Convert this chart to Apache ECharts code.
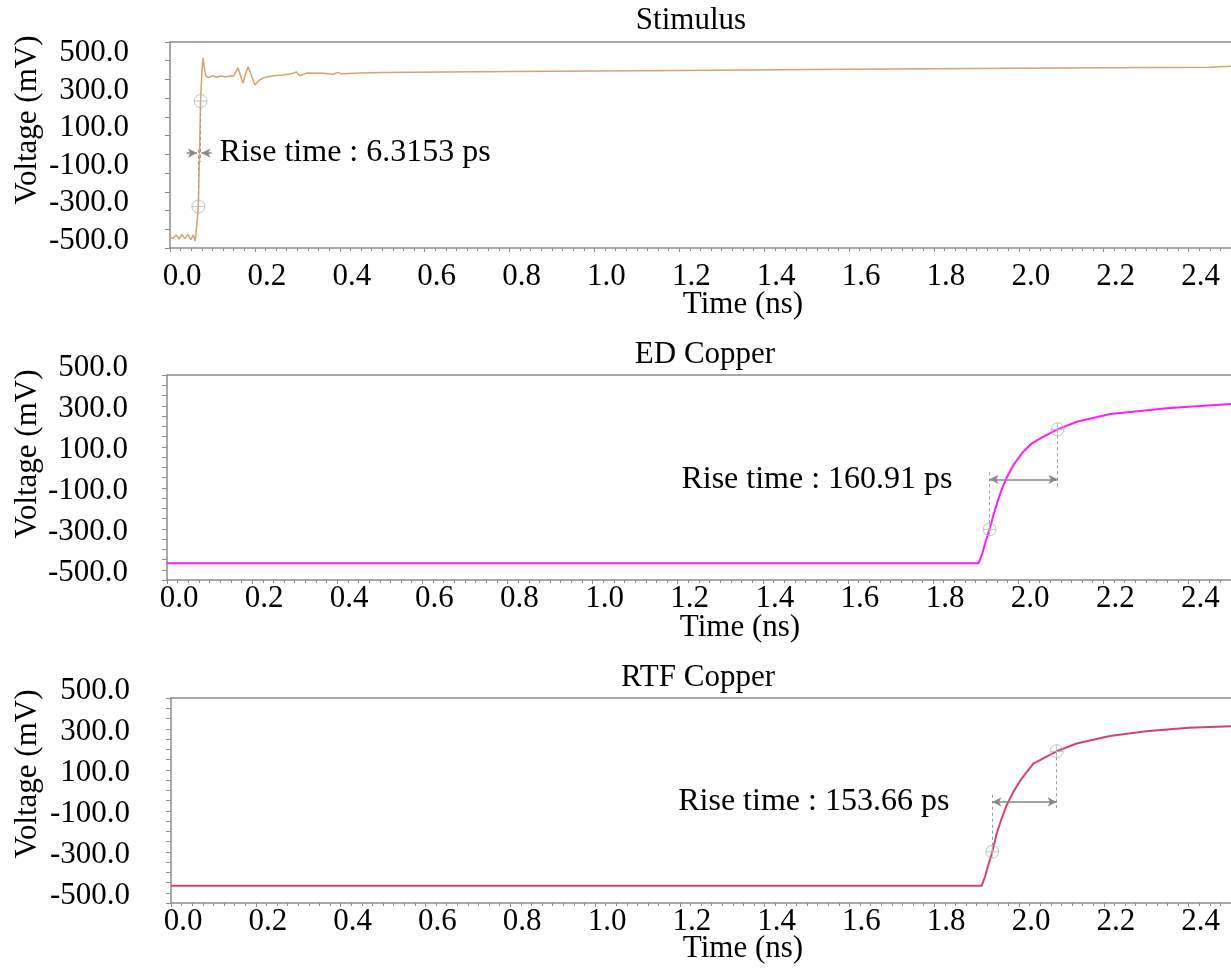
<!DOCTYPE html>
<html>
<head>
<meta charset="utf-8">
<script src="https://cdn.jsdelivr.net/npm/echarts@6/dist/echarts.min.js"></script>
<style>
html,body{margin:0;padding:0;background:#fff;}
#chart{width:1231px;height:971px;}
</style>
</head>
<body>
<div id="chart"></div>
<script>
// ---------------- DATA ----------------
const panelTitles = ['Stimulus', 'ED Copper', 'RTF Copper'];
const xTickLabelsNs = ['0.0','0.2','0.4','0.6','0.8','1.0','1.2','1.4','1.6','1.8','2.0','2.2','2.4'];
const yTickLabelsMv = ['-500.0','-300.0','-100.0','100.0','300.0','500.0'];

// Stimulus waveform (time ns, voltage mV)
const stimTime = [0, 0.007, 0.014, 0.021, 0.028, 0.035, 0.042, 0.049, 0.055, 0.059, 0.0605,
  0.0667, 0.0695, 0.072, 0.075, 0.0777, 0.081, 0.084, 0.090, 0.100, 0.110, 0.120, 0.130, 0.140,
  0.150, 0.155, 0.160, 0.166, 0.172, 0.178, 0.184, 0.192, 0.200, 0.210, 0.220, 0.240, 0.266,
  0.285, 0.298, 0.306, 0.322, 0.360, 0.385, 0.395, 0.405, 0.450, 0.500, 0.800, 1.200, 1.600,
  2.000, 2.200, 2.450, 2.500];
const stimVolt = [-440, -450, -430, -452, -428, -450, -427, -455, -430, -463, -445,
  -279, 0, 285, 430, 515, 460, 420, 410, 420, 412, 418, 415, 418,
  418, 440, 463, 420, 380, 430, 468, 420, 370, 395, 409, 418, 424,
  430, 440, 420, 434, 433, 428, 438, 430, 435, 437, 442, 448, 455,
  460, 463, 465, 470];

// ED Copper received waveform
const edTime = [0, 1.850, 1.9068, 1.9146, 1.9224, 1.9326, 1.9420, 1.9514, 1.9616, 1.9733, 1.9890,
  2.0086, 2.0321, 2.0595, 2.0924, 2.1379, 2.2162, 2.270, 2.349, 2.428, 2.500];
const edVolt = [-418, -418, -418, -378, -321, -253, -183, -118, -57, 1, 61,
  118, 167, 199, 235, 272, 310, 321, 338, 349, 359];

// RTF Copper received waveform
const rtfTime = [0, 1.850, 1.9120, 1.9198, 1.9277, 1.9371, 1.9474, 1.9591, 1.9709, 1.9866, 2.0063,
  2.0338, 2.0574, 2.0888, 2.1360, 2.2145, 2.300, 2.400, 2.500];
const rtfVolt = [-416, -416, -416, -372, -315, -250, -161, -88, -23, 42, 107,
  180, 205, 240, 278, 315, 338, 355, 362];

// Rise-time measurement points [t, mV] (low, high)
const stimRisePts = [[0.0667, -279], [0.072, 285]];
const edRisePts = [[1.9326, -253], [2.0924, 235]];
const rtfRisePts = [[1.9371, -250], [2.0888, 240]];
const riseLabels = ['Rise time : 6.3153 ps', 'Rise time : 160.91 ps', 'Rise time : 153.66 ps'];
const arrowLevelMv = [7, -9, -7];
const stimArrowOuter = [0.0393, 0.098];   // outer starts of the two inward arrows (stimulus)
const dashEndsMv = [[40, -40], [37, -45], [36, -37]]; // dashed guide ends (from low pt up, from high pt down)
const yRanges = [[-500, 600], [-500, 500], [-500, 500]];

// ---------------- STYLE / LAYOUT ----------------
const FONT = 'Liberation Serif';
const FS = 31;
const AXIS_GRAY = '#8c8c8c';
const colors = ['#d4a46c', '#ff1cff', '#d2456a'];
const grids = [
  {left: 170, right: 0, top: 42, height: 206},
  {left: 167, right: 0, top: 375, height: 205},
  {left: 171, right: 0, top: 698, height: 205}
];
const xLabelMargin = [13, 3, 3];
const yLabelMargin = [41, 39, 41];
const titleCenters = [[691, 21], [705, 355], [698, 678]];
const xNameCenters = [[743, 305], [740, 628], [743, 949]];
const yNameCenters = [[28, 120], [28, 454], [28, 774]];

const zip = (a, b) => a.map((v, i) => [v, b[i]]);
const circlePlus = 'path://M10,0A10,10,0,1,1,10,20A10,10,0,1,1,10,0ZM10,0L10,20M0,10L20,10';

const xAxes = [], yAxes = [], series = [];
for (let i = 0; i < 3; i++) {
  xAxes.push({
    type: 'value', gridIndex: i, min: 0, max: 2.5, interval: 0.2,
    axisLine: {show: true, onZero: false, lineStyle: {color: AXIS_GRAY, width: 1.5}},
    axisTick: {show: true, length: 4, inside: false, lineStyle: {color: AXIS_GRAY}},
    minorTick: {show: true, splitNumber: 8, length: 3, lineStyle: {color: AXIS_GRAY}},
    splitLine: {show: false},
    axisLabel: {
      showMaxLabel: false, margin: xLabelMargin[i],
      fontFamily: FONT, fontSize: FS, color: '#000', padding: [0, 0, 0, 24],
      formatter: v => {
        const s = v.toFixed(1);
        return xTickLabelsNs.indexOf(s) >= 0 ? s : '';
      }
    }
  });
  yAxes.push({
    type: 'value', gridIndex: i, min: yRanges[i][0], max: yRanges[i][1], interval: 100,
    axisLine: {show: true, onZero: false, lineStyle: {color: AXIS_GRAY, width: 1.5}},
    axisTick: {show: true, length: 5, lineStyle: {color: AXIS_GRAY}},
    minorTick: {show: i > 0, splitNumber: 2, length: 5, lineStyle: {color: AXIS_GRAY}},
    splitLine: {show: false},
    axisLabel: {
      margin: yLabelMargin[i], fontFamily: FONT, fontSize: FS, color: '#000',
      verticalAlign: 'bottom', lineHeight: 15,
      formatter: v => {
        const s = v.toFixed(1);
        return yTickLabelsMv.indexOf(s) >= 0 ? s : '';
      }
    }
  });
}
// top frame lines
for (let i = 0; i < 3; i++) {
  xAxes.push({
    type: 'value', gridIndex: i, position: 'top', min: 0, max: 2.5,
    axisLine: {show: true, onZero: false, lineStyle: {color: AXIS_GRAY, width: 1.5}},
    axisTick: {show: false}, axisLabel: {show: false}, splitLine: {show: false}
  });
}

const waveData = [zip(stimTime, stimVolt), zip(edTime, edVolt), zip(rtfTime, rtfVolt)];
const risePts = [stimRisePts, edRisePts, rtfRisePts];

const labelStyle = {fontFamily: FONT, fontSize: 32, color: '#000'};
const arrowLine = {color: '#888', width: 1.5, type: 'solid'};
const dashLine = {color: '#999', width: 1, type: [3, 3]};

for (let i = 0; i < 3; i++) {
  series.push({
    type: 'line', xAxisIndex: i, yAxisIndex: i, data: waveData[i],
    showSymbol: false, smooth: false,
    lineStyle: {color: colors[i], width: i === 0 ? 1.5 : 2},
    z: 2
  });
  const [lo, hi] = risePts[i];
  const lvl = arrowLevelMv[i];
  const mlData = [
    [{coord: [lo[0], lo[1]], symbol: 'none', lineStyle: dashLine, label: {show: false}},
     {coord: [lo[0], dashEndsMv[i][0]], symbol: 'none'}],
    [{coord: [hi[0], hi[1]], symbol: 'none', lineStyle: dashLine, label: {show: false}},
     {coord: [hi[0], dashEndsMv[i][1]], symbol: 'none'}]
  ];
  if (i === 0) {
    mlData.push([
      {coord: [stimArrowOuter[0], lvl], symbol: 'none', lineStyle: arrowLine, label: {show: false}},
      {coord: [lo[0] - 0.003, lvl], symbol: 'arrow'}
    ]);
    mlData.push([
      {coord: [stimArrowOuter[1], lvl], symbol: 'none', lineStyle: arrowLine,
       label: Object.assign({show: true, position: 'start', distance: 8, formatter: riseLabels[0]}, labelStyle)},
      {coord: [hi[0] + 0.002, lvl], symbol: 'arrow'}
    ]);
  } else {
    mlData.push([
      {coord: [lo[0], lvl], symbol: 'arrow', lineStyle: arrowLine,
       label: Object.assign({show: true, position: 'start', distance: i === 1 ? 37 : 43, formatter: riseLabels[i]}, labelStyle)},
      {coord: [hi[0], lvl], symbol: 'arrow'}
    ]);
  }
  series.push({
    type: 'scatter', xAxisIndex: i, yAxisIndex: i, data: risePts[i],
    symbol: circlePlus, symbolSize: 13,
    itemStyle: {color: 'rgba(255,255,255,0)', borderColor: '#b5b5b5', borderWidth: 1},
    z: 5, silent: true,
    markLine: {silent: true, symbolSize: [7, 9], animation: false, data: mlData, label: {show: false}}
  });
}

const graphic = [];
for (let i = 0; i < 3; i++) {
  graphic.push({type: 'text', x: titleCenters[i][0], y: titleCenters[i][1],
    style: {text: panelTitles[i], font: FS + 'px "' + FONT + '"', fill: '#000', textAlign: 'center', textVerticalAlign: 'middle'}});
  graphic.push({type: 'text', x: xNameCenters[i][0], y: xNameCenters[i][1],
    style: {text: 'Time (ns)', font: FS + 'px "' + FONT + '"', fill: '#000', textAlign: 'center', textVerticalAlign: 'middle'}});
  graphic.push({type: 'text', x: yNameCenters[i][0], y: yNameCenters[i][1], rotation: Math.PI / 2,
    style: {text: 'Voltage (mV)', font: FS + 'px "' + FONT + '"', fill: '#000', textAlign: 'center', textVerticalAlign: 'middle'}});
}

const chart = echarts.init(document.getElementById('chart'), null, {renderer: 'canvas'});
chart.setOption({
  animation: false,
  backgroundColor: '#fff',
  grid: grids,
  xAxis: xAxes,
  yAxis: yAxes,
  series: series,
  graphic: graphic
});
</script>
</body>
</html>
